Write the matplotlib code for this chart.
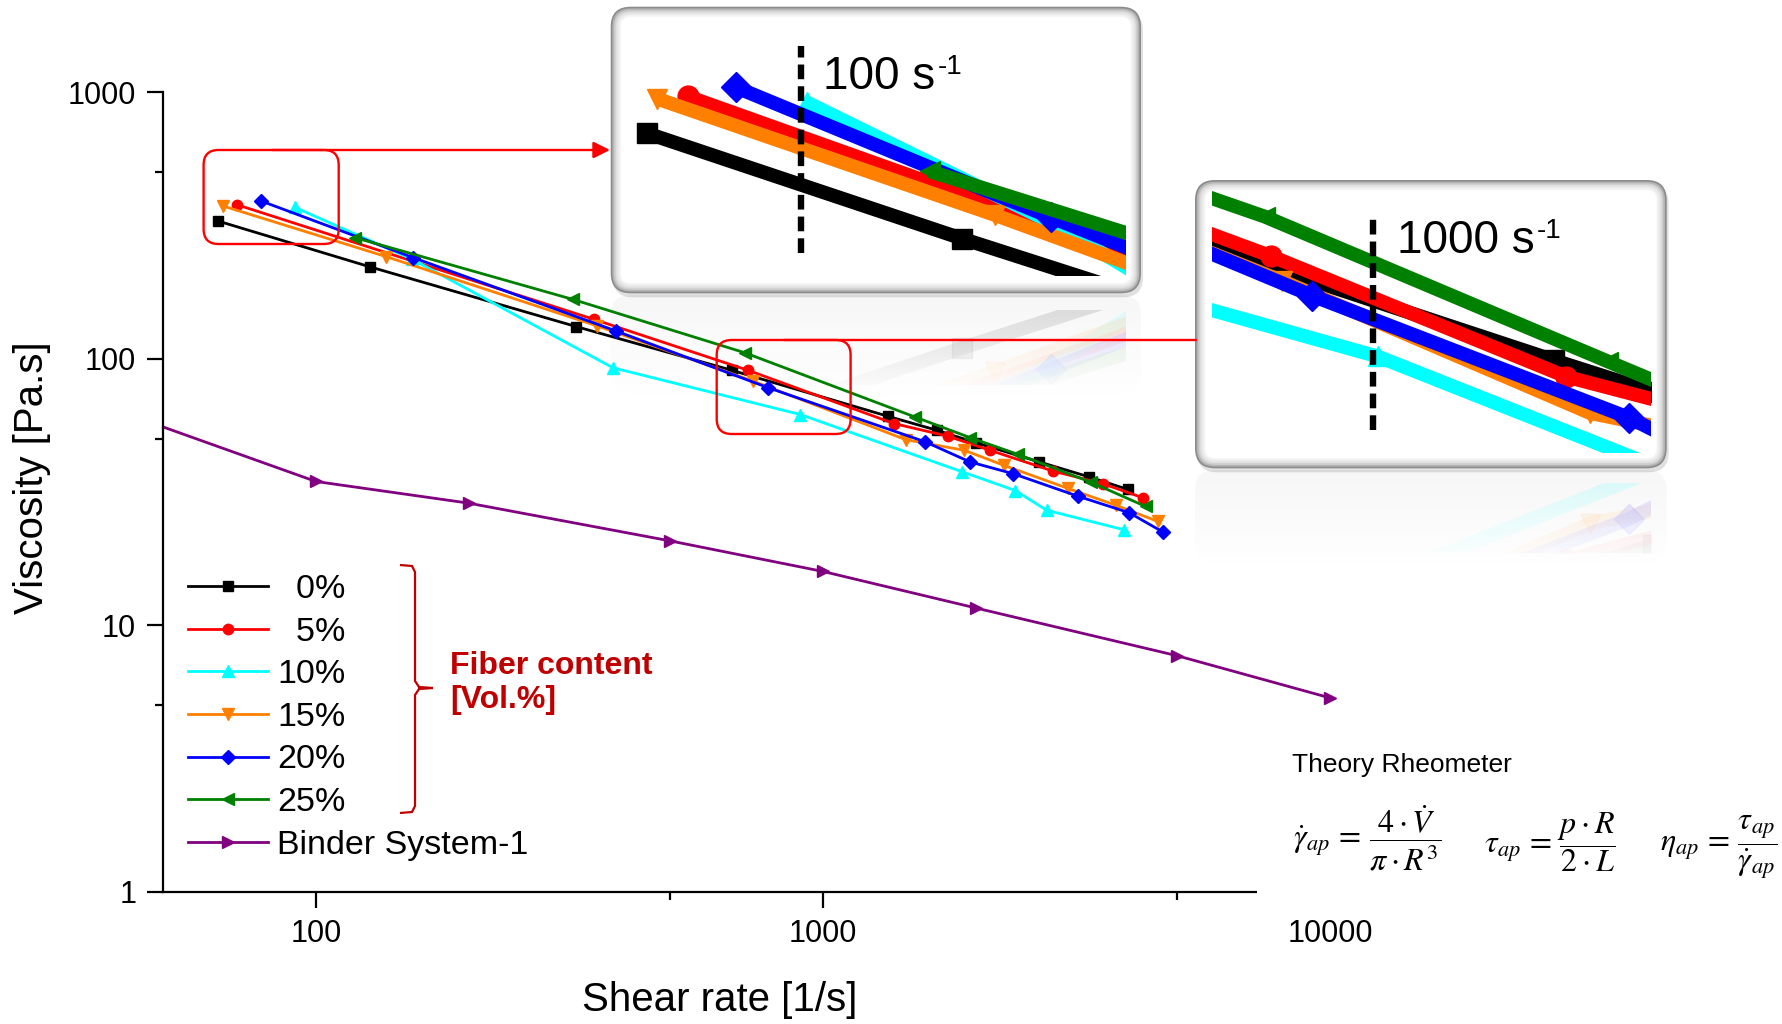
import numpy as np
import matplotlib.pyplot as plt
from matplotlib.patches import FancyBboxPatch, Rectangle, FancyArrowPatch, PathPatch
from matplotlib.path import Path
from matplotlib.transforms import Affine2D
from matplotlib.ticker import NullFormatter

plt.rcParams['font.family'] = ['Liberation Sans', 'DejaVu Sans']
plt.rcParams['mathtext.fontset'] = 'stix'

# ---- values (shear rate [1/s], viscosity [Pa.s]) ----
rate_0 = [64, 128, 326, 662, 1343, 1676, 2008, 2668, 3348, 3993]
visc_0 = [329, 221, 132, 90.4, 60.8, 53.9, 48.3, 41.0, 36.0, 32.3]
rate_5 = [70, 353, 710, 1380, 1763, 2136, 2838, 3572, 4286]
visc_5 = [378, 140.6, 90.6, 57.1, 51.2, 45.3, 37.9, 33.9, 30.0]
rate_10 = [91, 155, 385, 903, 1883, 2395, 2760, 3922]
visc_10 = [369.5, 236, 92.5, 61.7, 37.6, 32.0, 27.0, 22.8]
rate_15 = [65.5, 137.5, 359, 728, 1455, 1901, 2273, 3041, 3777, 4576]
visc_15 = [374.6, 241.7, 132.7, 82.4, 49.7, 45.3, 39.8, 32.6, 28.2, 24.5]
rate_20 = [77.9, 155.5, 391, 780, 1589, 1948, 2373, 3177, 4020, 4674]
visc_20 = [391, 239.6, 127, 77.8, 48.8, 41.0, 37.0, 30.5, 26.4, 22.4]
rate_25 = [119.2, 321, 701, 1516, 1954, 2428, 3374, 4327]
visc_25 = [285, 167, 105.3, 60.5, 50.5, 43.7, 34.4, 27.9]
rate_binder = [50, 100, 200, 500, 1000, 2000, 5000, 10000]
visc_binder = [55.4, 34.6, 28.7, 20.7, 15.9, 11.6, 7.67, 5.33]

labels = ['  0%', '  5%', '10%', '15%', '20%', '25%', 'Binder System-1']
x_ticks = [100, 1000, 10000]
y_ticks = [1, 10, 100, 1000]

fiber = [(rate_0, visc_0), (rate_5, visc_5), (rate_10, visc_10), (rate_15, visc_15),
         (rate_20, visc_20), (rate_25, visc_25)]
colors = ['#000000', '#ff0000', '#00ffff', '#ff8000', '#0000ff', '#008000', '#800080']
markers = ['s', 'o', '^', 'v', 'D', '<', '>']
msizes = [7, 7.5, 8.5, 8.5, 7, 8.5, 8.5]

W, H = 1783, 1024
fig = plt.figure(figsize=(W / 100, H / 100), dpi=100)
fig.patch.set_facecolor('white')
# pixel coordinates with origin at the top-left corner
px = Affine2D().scale(0.01, -0.01).translate(0, H / 100) + fig.dpi_scale_trans


def frac(x0, y0, x1, y1):
    return [x0 / W, 1 - y1 / H, (x1 - x0) / W, (y1 - y0) / H]


def rbox(x0, y0, x1, y1, r, **kw):
    return FancyBboxPatch((x0, y0), x1 - x0, y1 - y0,
                          boxstyle='round,pad=0,rounding_size=%g' % r,
                          transform=px, **kw)


# ---------------- main plot ----------------
ax = fig.add_axes(frac(163.3, 92.3, 1330, 891.5), zorder=1)
ax.patch.set_alpha(0)
ax.set_xscale('log')
ax.set_yscale('log')

for i, (r, v) in enumerate(fiber):
    ax.plot(r, v, color=colors[i], marker=markers[i], ms=msizes[i], lw=2,
            label=labels[i], clip_on=False)
ax.plot(rate_binder, visc_binder, color=colors[6], marker=markers[6], ms=msizes[6],
        lw=2, label=labels[6], clip_on=False, markevery=range(1, len(rate_binder)))

ax.set_xlim(50, 10000)
ax.set_ylim(1, 1000)
ax.set_xticks(x_ticks, [str(t) for t in x_ticks])
ax.set_xticks([500, 5000], minor=True)
ax.set_yticks(y_ticks, [str(t) for t in y_ticks])
ax.set_yticks([5, 50, 500], minor=True)
ax.xaxis.set_minor_formatter(NullFormatter())
ax.yaxis.set_minor_formatter(NullFormatter())
for s in ['top', 'right']:
    ax.spines[s].set_visible(False)
for s in ['left', 'bottom']:
    ax.spines[s].set_linewidth(1.6)
ax.tick_params(which='major', direction='out', length=11.5, width=1.6, labelsize=22, pad=8)
ax.tick_params(which='minor', direction='out', length=5.8, width=1.6)

ax.legend(loc='upper left', bbox_to_anchor=(0.0208, 0.397), frameon=False, fontsize=24.5,
          handlelength=2.35, handletextpad=0.28, labelspacing=0.34, borderpad=0,
          borderaxespad=0)

fig.text(720, 1000, 'Shear rate [1/s]', transform=px, ha='center', va='center', fontsize=29)
fig.text(32, 478, 'Viscosity [Pa.s]', transform=px, ha='center', va='center',
         rotation=90, fontsize=29)

# bracket + label for the fibre series
bx = [400, 412, 415, 415, 419, 433, 419, 415, 415, 412, 400]
by = [565, 566, 572, 681, 687, 688, 689, 695, 806, 812, 813]
fig.add_artist(PathPatch(Path(np.column_stack([bx, by])), fill=False, ec='#c00000',
                         lw=1.6, transform=px, zorder=4))
fig.text(450, 683, 'Fiber content\n[Vol.%]', transform=px, ha='left', va='center',
         fontsize=23, fontweight='bold', color='#c00000', linespacing=1.2)

# red zoom markers
fig.add_artist(rbox(203.6, 150, 338.7, 244, 15, fc='none', ec='#ff0000', lw=1.7, zorder=4))
fig.add_artist(FancyArrowPatch((272, 150), (610, 150), transform=px, color='#ff0000',
                               lw=1.7, arrowstyle='-|>,head_length=0.5,head_width=0.25',
                               mutation_scale=20, shrinkA=0, shrinkB=0, zorder=4))
fig.add_artist(rbox(716.7, 340, 850.6, 434, 15, fc='none', ec='#ff0000', lw=1.7, zorder=4))
fig.add_artist(FancyArrowPatch((784, 340), (1196, 340), transform=px, color='#ff0000',
                               lw=1.7, arrowstyle='-', shrinkA=0, shrinkB=0, zorder=4))


# ---------------- zoomed insets ----------------
def inset(box, inner, xlim, ylim, dash_x, tag, tag_xy, band):
    bx0, by0, bx1, by1 = box
    # frame with soft grey rim
    fig.add_artist(rbox(bx0 + 2, by0 + 4, bx1 + 2, by1 + 4, 20, fc='k', ec='none',
                        alpha=0.12, zorder=2))
    shades = ['#8c8c8c', '#b4b4b4', '#cfcfcf', '#e0e0e0', '#ebebeb', '#f4f4f4', '#ffffff']
    for k, c in enumerate(shades):
        d = k * 1.7
        fig.add_artist(rbox(bx0 + d, by0 + d, bx1 - d, by1 - d, 20 - d, fc=c, ec='none',
                            zorder=2))

    x0, y0, x1, y1 = inner
    axi = fig.add_axes(frac(*inner), zorder=3)
    axi.set_xscale('log')
    axi.set_yscale('log')
    for i, (r, v) in enumerate(fiber):
        axi.plot(r, v, color=colors[i], marker=markers[i], ms=15, lw=10,
                 solid_capstyle='butt')
    axi.set_xlim(xlim)
    axi.set_ylim(ylim)
    axi.axis('off')
    axi.plot([dash_x, dash_x], [0.09, 0.89], transform=axi.transAxes, color='k',
             lw=4.6, ls=(0, (2.3, 1.1)), solid_capstyle='butt')
    t = axi.text(tag_xy[0], tag_xy[1], tag, transform=axi.transAxes, fontsize=33,
                 va='baseline', ha='left')
    axi.annotate('-1', xy=(1, 1), xycoords=t, xytext=(1.5, 1), textcoords='offset points',
                 fontsize=20, ha='left', va='top')

    # mirrored reflection under the frame
    top = 2 * by1 - y1
    axr = fig.add_axes(frac(x0, top, x1, top + band), zorder=0.5)
    axr.set_xscale('log')
    axr.set_yscale('log')
    for i, (r, v) in enumerate(fiber):
        axr.plot(r, v, color=colors[i], marker=markers[i], ms=15, lw=10, alpha=0.25)
    lo, hi = np.log10(ylim)
    axr.set_xlim(xlim)
    axr.set_ylim(10 ** (lo + band / (y1 - y0) * (hi - lo)), ylim[0])
    axr.axis('off')
    fig.add_artist(rbox(bx0, by1 + 2, bx1, by1 + band + 25, 20, fc='#f0f0f0', ec='none',
                        zorder=0.4))
    axg = fig.add_axes(frac(bx0 - 2, by1 + 1, bx1 + 4, by1 + band + 28), zorder=0.7)
    grad = np.ones((80, 1, 4))
    grad[:, 0, 3] = np.linspace(0.45, 1.0, 80)
    axg.imshow(grad, aspect='auto', extent=(0, 1, 0, 1), origin='upper')
    axg.axis('off')


inset((610.7, 6.7, 1141, 293.3), (619.7, 17, 1125.6, 276.3), (60.3, 183.4), (191.7, 510),
      0.358, '100 s', (0.402, 0.722), 75)
inset((1195, 180, 1666.7, 468.3), (1211.7, 190, 1651, 453.3), (622, 1669), (42.6, 116.6),
      0.3665, '1000 s', (0.421, 0.76), 70)

# ---------------- theory box ----------------
fig.add_artist(Rectangle((1257, 730), W - 1257, 180, transform=px, fc='white', ec='none',
                         zorder=2))
fig.text(1292, 765, 'Theory Rheometer', transform=px, ha='left', va='center', fontsize=19)
fig.text(1293, 838, r'$\dot{\gamma}_{ap}\,=\,\dfrac{4\cdot\dot{V}}{\pi\cdot R^{3}}$',
         transform=px, ha='left', va='center', fontsize=23)
fig.text(1484, 842, r'$\tau_{ap}\,=\,\dfrac{p\cdot R}{2\cdot L}$',
         transform=px, ha='left', va='center', fontsize=23)
fig.text(1660, 847, r'$\eta_{ap}\,=\,\dfrac{\tau_{ap}}{\dot{\gamma}_{ap}}$',
         transform=px, ha='left', va='center', fontsize=23)

fig.savefig('out.png', dpi=100, facecolor='white')
